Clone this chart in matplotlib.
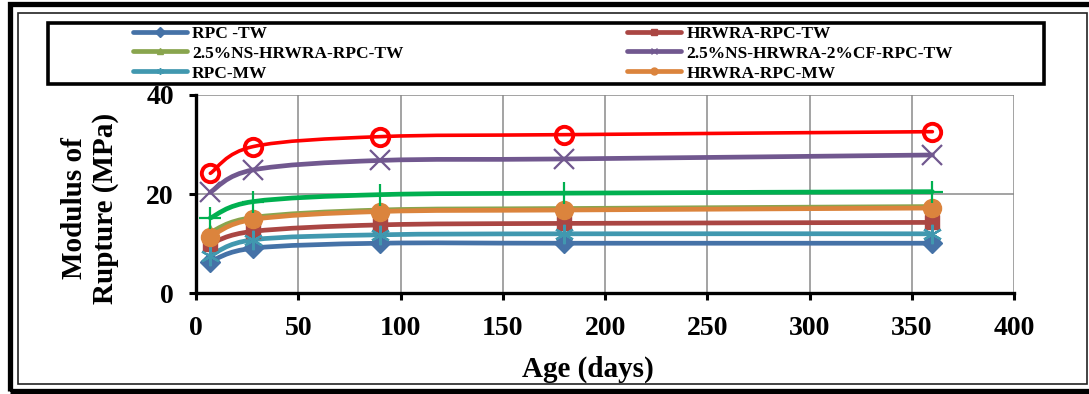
import numpy as np
import matplotlib
matplotlib.use("Agg")
from matplotlib import pyplot as plt
from matplotlib.path import Path
from matplotlib.patches import PathPatch, Rectangle
from matplotlib.lines import Line2D

plt.rcParams['font.family'] = ['Liberation Serif', 'DejaVu Serif']
plt.rcParams['font.weight'] = 'bold'

# data
age = [7, 28, 90, 180, 360]
rpc_tw = [6.4, 9.1, 10.1, 10.1, 10.1]
hrwra_rpc_tw = [10.0, 12.5, 13.8, 14.1, 14.3]
ns_hrwra_rpc_tw = [12.3, 15.3, 16.8, 17.1, 17.5]
ns_cf_rpc_tw = [20.4, 24.9, 26.8, 27.1, 27.9]
rpc_mw = [7.6, 10.8, 11.8, 12.0, 12.0]
hrwra_rpc_mw = [11.4, 14.9, 16.5, 16.8, 17.2]
ns_hrwra_rpc_mw = [15.2, 18.5, 19.9, 20.2, 20.5]
ns_cf_rpc_mw = [24.2, 29.6, 31.6, 32.0, 32.6]

labels = ['RPC -TW', 'HRWRA-RPC-TW', '2.5%NS-HRWRA-RPC-TW',
          '2.5%NS-HRWRA-2%CF-RPC-TW', 'RPC-MW', 'HRWRA-RPC-MW']
x_ticks = [0, 50, 100, 150, 200, 250, 300, 350, 400]
y_ticks = [0, 20, 40]

# (values, color, marker, size, face, edge width, in legend)
series = [
    (rpc_tw, '#4572A7', 'D', 10, None, 1, True),
    (hrwra_rpc_tw, '#AA4643', 's', 10.5, None, 1, True),
    (ns_hrwra_rpc_tw, '#89A54E', '^', 10, None, 1, True),
    (ns_cf_rpc_tw, '#71588F', 'x', 14, None, 1.6, True),
    (rpc_mw, '#4198AF', (6, 2, 0), 14, None, 1.6, True),
    (hrwra_rpc_mw, '#DB843D', 'o', 13, None, 1, True),
    (ns_hrwra_rpc_mw, '#00B050', '+', 16, None, 1.6, False),
    (ns_cf_rpc_mw, '#FF0000', 'o', 12.5, 'none', 2.8, False),
]


def smooth_path(xs, ys):
    # excel style smoothed line: cubic bezier with catmull-rom tangents
    p = np.column_stack([xs, ys]).astype(float)
    n = len(p)
    verts = [p[0]]
    codes = [Path.MOVETO]
    for i in range(n - 1):
        a = p[max(i - 1, 0)]
        b = p[min(i + 2, n - 1)]
        c1 = p[i] + (p[i + 1] - a) / 6.0
        c2 = p[i + 1] - (b - p[i]) / 6.0
        verts += [c1, c2, p[i + 1]]
        codes += [Path.CURVE4] * 3
    return Path(verts, codes)


W, H = 1089, 394
fig = plt.figure(figsize=(W / 100, H / 100), dpi=100)
ax = fig.add_axes([196 / W, (H - 293.3) / H, (1014.2 - 196) / W, (293.3 - 95) / H])

handles = []
for vals, col, mk, ms, face, mew, leg in series:
    lw = 2.6 if col == '#FF0000' else 3.4
    ax.add_patch(PathPatch(smooth_path(age, vals), fill=False, edgecolor=col,
                           lw=lw, capstyle='round', joinstyle='round'))
    ax.plot(age, vals, linestyle='none', marker=mk, ms=ms, color=col,
            mfc=col if face is None else face, mec=col, mew=mew)
    if leg:
        handles.append(Line2D([], [], color=col, lw=3.4, marker=mk, ms=5,
                              mew=1, solid_capstyle='round'))

ax.set_xlim(0, 400)
ax.set_ylim(0, 40)
ax.set_xticks(x_ticks)
ax.set_yticks(y_ticks)
ax.grid(True, color='#8a8a8a', lw=1.1)
ax.set_axisbelow(True)
for s in ['top', 'right']:
    ax.spines[s].set_visible(False)
for s in ['left', 'bottom']:
    ax.spines[s].set_linewidth(2.4)
    ax.spines[s].set_zorder(3)
ax.tick_params(direction='out', length=5, width=2.2, pad=11, labelsize=20)

fig.text(588 / W, (H - 377) / H, 'Age (days)', ha='center', va='baseline',
         fontsize=21, fontweight='bold')
fig.text(90 / W, (H - 208) / H, 'Modulus of\nRupture (MPa)', rotation=90,
         ha='center', va='center', multialignment='center', fontsize=21,
         fontweight='bold', linespacing=1.22)

# legend frame and entries (row-major order like the original)
fig.patches.append(Rectangle((48.5 / W, (H - 83.5) / H), (1044 - 48.5) / W, 60 / H,
                             transform=fig.transFigure, facecolor='white',
                             edgecolor='black', lw=2.6, zorder=2))
order = [0, 2, 4, 1, 3, 5]
fig.legend([handles[i] for i in order], [labels[i] for i in order], ncol=2,
           mode='expand', frameon=False, loc='center',
           bbox_to_anchor=(133 / W, (H - 83.5) / H, 820 / W, 60 / H),
           borderaxespad=0, borderpad=0, fontsize=12.5, handlelength=3.1,
           handletextpad=0.3, labelspacing=0.22, columnspacing=1.0)

# outer double border
fig.patches.append(Rectangle((0, 0), 1, 10 / H, transform=fig.transFigure,
                             facecolor='white', edgecolor='none', zorder=3))
fig.patches.append(Rectangle((17.5 / W, (H - 383.5) / H), (1087 - 17.5) / W, 371 / H,
                             transform=fig.transFigure, fill=False,
                             edgecolor='#222222', lw=1.2, zorder=4))
fig.patches.append(Rectangle((9.5 / W, (H - 390.5) / H), (1100 - 9.5) / W, 386.5 / H,
                             transform=fig.transFigure, fill=False,
                             edgecolor='black', lw=3.8, zorder=4))

fig.savefig('out.png', dpi=100)
